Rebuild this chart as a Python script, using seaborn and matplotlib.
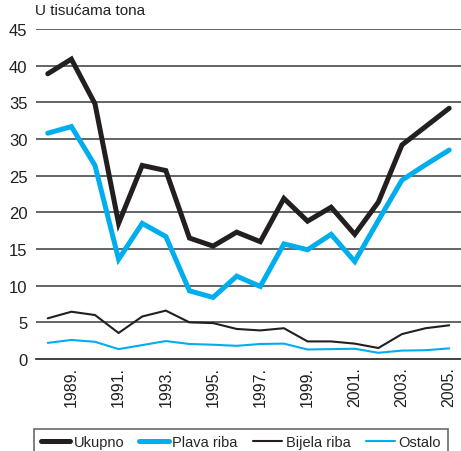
import matplotlib
matplotlib.use("Agg")
import matplotlib.pyplot as plt
import seaborn as sns
import pandas as pd

years = list(range(1988, 2006))
ukupno = [38.9, 40.9, 34.8, 18.5, 26.4, 25.7, 16.5, 15.4, 17.3, 16.0, 21.9, 18.8, 20.7, 17.0, 21.4, 29.2, 31.7, 34.2]
plava_riba = [30.8, 31.7, 26.4, 13.6, 18.5, 16.7, 9.3, 8.4, 11.3, 9.9, 15.7, 14.9, 17.0, 13.3, 18.9, 24.4, 26.5, 28.5]
bijela_riba = [5.55, 6.45, 6.0, 3.55, 5.8, 6.6, 5.0, 4.9, 4.1, 3.9, 4.2, 2.4, 2.4, 2.1, 1.5, 3.4, 4.2, 4.6]
ostalo = [2.2, 2.6, 2.35, 1.35, 1.9, 2.45, 2.05, 1.95, 1.8, 2.05, 2.1, 1.3, 1.35, 1.4, 0.85, 1.15, 1.2, 1.45]
tick_years = [1989, 1991, 1993, 1995, 1997, 1999, 2001, 2003, 2005]
y_ticks = [0, 5, 10, 15, 20, 25, 30, 35, 40, 45]

BLACK = "#231f20"
BLUE = "#00aeef"

series = [
    ("Ukupno", ukupno, BLACK, 3.6),
    ("Plava riba", plava_riba, BLUE, 3.6),
    ("Bijela riba", bijela_riba, BLACK, 1.5),
    ("Ostalo", ostalo, BLUE, 1.5),
]

sns.set_theme(style="white")
plt.rcParams["font.family"] = ["Liberation Sans", "DejaVu Sans"]

fig = plt.figure(figsize=(4.61, 4.52), dpi=100)
ax = fig.add_axes([0.078, 0.2035, 0.922, 0.73])

for y in y_ticks[1:]:
    ax.axhline(y, color="#3a3a3a", lw=1.1, zorder=0)

handles = []
for name, vals, color, lw in series:
    df = pd.DataFrame({"godina": years, "vrijednost": vals})
    sns.lineplot(data=df, x="godina", y="vrijednost", ax=ax, color=color,
                 linewidth=lw, label=name, legend=False, zorder=3,
                 solid_joinstyle="miter")
    handles.append(ax.get_lines()[-1])

ax.set_xlim(1987.5, 2005.5)
ax.set_ylim(0, 45)
ax.set_yticks(y_ticks)
ax.set_yticklabels([str(v) for v in y_ticks], fontsize=12, color=BLACK)
ax.set_xticks(tick_years)
ax.set_xticklabels([f"{y}." for y in tick_years], rotation=90, fontsize=11.5, color=BLACK)
ax.set_xticks([y + 0.5 for y in range(1987, 2005)], minor=True)
ax.tick_params(axis="x", which="major", length=0, pad=5)
ax.tick_params(axis="x", which="minor", length=5, width=1.1, color=BLACK, direction="out")
ax.tick_params(axis="y", length=0, pad=6)
ax.set_xlabel("")
ax.set_ylabel("")

for side in ["top", "right", "left"]:
    ax.spines[side].set_visible(False)
ax.spines["bottom"].set_color(BLACK)
ax.spines["bottom"].set_linewidth(1.2)

fig.text(0.076, 0.975, "U tisućama tona", fontsize=11, color=BLACK, va="center", ha="left")

leg = fig.legend(handles=handles, labels=[s[0] for s in series], loc="upper left",
                 bbox_to_anchor=(0.074, 0.049), ncol=4, frameon=True, fancybox=False,
                 fontsize=10.5, handlelength=2.0, handletextpad=0.25, columnspacing=1.05,
                 borderpad=0.45, borderaxespad=0)
leg.get_frame().set_edgecolor("#444444")
leg.get_frame().set_linewidth(1.2)

fig.savefig("out.png", dpi=100)
